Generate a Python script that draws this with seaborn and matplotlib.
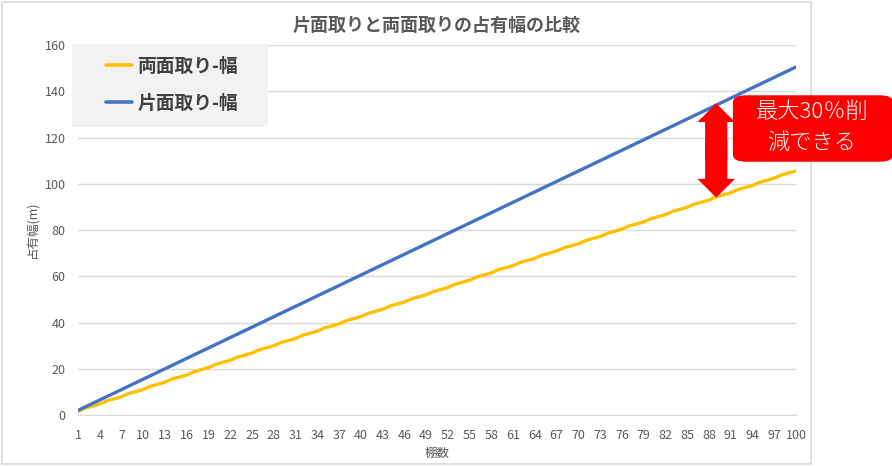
import matplotlib
matplotlib.use("Agg")
import matplotlib.pyplot as plt
import matplotlib.patches as mpatches
import seaborn as sns
import pandas as pd

# 片面取りと両面取りの占有幅の比較

tanasu = list(range(1, 101))

# 片面取り-幅 (m)
katamen = [
    2.0, 3.5, 5.0, 6.5, 8.0, 9.5, 11.0, 12.5, 14.0, 15.5,
    17.0, 18.5, 20.0, 21.5, 23.0, 24.5, 26.0, 27.5, 29.0, 30.5,
    32.0, 33.5, 35.0, 36.5, 38.0, 39.5, 41.0, 42.5, 44.0, 45.5,
    47.0, 48.5, 50.0, 51.5, 53.0, 54.5, 56.0, 57.5, 59.0, 60.5,
    62.0, 63.5, 65.0, 66.5, 68.0, 69.5, 71.0, 72.5, 74.0, 75.5,
    77.0, 78.5, 80.0, 81.5, 83.0, 84.5, 86.0, 87.5, 89.0, 90.5,
    92.0, 93.5, 95.0, 96.5, 98.0, 99.5, 101.0, 102.5, 104.0, 105.5,
    107.0, 108.5, 110.0, 111.5, 113.0, 114.5, 116.0, 117.5, 119.0, 120.5,
    122.0, 123.5, 125.0, 126.5, 128.0, 129.5, 131.0, 132.5, 134.0, 135.5,
    137.0, 138.5, 140.0, 141.5, 143.0, 144.5, 146.0, 147.5, 149.0, 150.5,
]

# 両面取り-幅 (m)
ryomen = [
    1.6, 3.0, 3.85, 4.75, 6.15, 7.0, 7.9, 9.3, 10.15, 11.05,
    12.45, 13.3, 14.2, 15.6, 16.45, 17.35, 18.75, 19.6, 20.5, 21.9,
    22.75, 23.65, 25.05, 25.9, 26.8, 28.2, 29.05, 29.95, 31.35, 32.2,
    33.1, 34.5, 35.35, 36.25, 37.65, 38.5, 39.4, 40.8, 41.65, 42.55,
    43.95, 44.8, 45.7, 47.1, 47.95, 48.85, 50.25, 51.1, 52.0, 53.4,
    54.25, 55.15, 56.55, 57.4, 58.3, 59.7, 60.55, 61.45, 62.85, 63.7,
    64.6, 66.0, 66.85, 67.75, 69.15, 70.0, 70.9, 72.3, 73.15, 74.05,
    75.45, 76.3, 77.2, 78.6, 79.45, 80.35, 81.75, 82.6, 83.5, 84.9,
    85.75, 86.65, 88.05, 88.9, 89.8, 91.2, 92.05, 92.95, 94.35, 95.2,
    96.1, 97.5, 98.35, 99.25, 100.65, 101.5, 102.4, 103.8, 104.65, 105.55,
]

series_names = ["両面取り-幅", "片面取り-幅"]
colors = {"両面取り-幅": "#FFC000", "片面取り-幅": "#4472C4"}
x_labels = list(range(1, 101, 3))

df = pd.DataFrame({
    "棚数": tanasu * 2,
    "占有幅": ryomen + katamen,
    "系列": [series_names[0]] * 100 + [series_names[1]] * 100,
})

sns.set_style("white")
plt.rcParams["font.family"] = ["Noto Sans CJK JP", "DejaVu Sans"]

W, H = 892, 466
fig = plt.figure(figsize=(W / 100, H / 100), dpi=100)
ax = fig.add_axes([78 / W, 1 - 415 / H, (796 - 78) / W, (415 - 45) / H])

sns.lineplot(data=df, x="棚数", y="占有幅", hue="系列", palette=colors,
             linewidth=2.4, ax=ax, legend=False)

ax.set_xlim(1, 100)
ax.set_ylim(0, 160)
ax.set_yticks(range(0, 161, 20))
ax.set_xticks(x_labels)
ax.set_xticks(tanasu, minor=True)
ax.tick_params(axis="x", which="both", length=4, color="#d9d9d9", direction="out",
               labelsize=9, labelcolor="#595959", pad=6)
ax.tick_params(axis="y", length=0, labelsize=9, labelcolor="#595959", pad=9)
ax.grid(axis="y", color="#d9d9d9", linewidth=1)
ax.set_axisbelow(True)
for s in ["top", "right", "left"]:
    ax.spines[s].set_visible(False)
ax.spines["bottom"].set_color("#d9d9d9")

ax.set_xlabel("棚数", fontsize=9, color="#595959", labelpad=4)
ax.set_ylabel("占有幅(m)", fontsize=9, color="#595959", labelpad=4)

# グラフエリアの枠
fig.patches.append(mpatches.Rectangle((2 / W, 1 - 464 / H), (811 - 2) / W, (464 - 2) / H,
                                      transform=fig.transFigure, fill=False,
                                      edgecolor="#d9d9d9", linewidth=1.2))

fig.text(437 / W, 1 - 25 / H, "片面取りと両面取りの占有幅の比較", ha="center", va="center",
         fontsize=13, fontweight="bold", color="#595959")

# 凡例
fig.patches.append(mpatches.Rectangle((72 / W, 1 - 127 / H), (268 - 72) / W, (127 - 44) / H,
                                      transform=fig.transFigure, facecolor="#f2f2f2",
                                      edgecolor="none", zorder=3))
handles = [plt.Line2D([], [], color=colors[n], linewidth=2.6) for n in series_names]
leg = fig.legend(handles, series_names, loc="upper left",
                 bbox_to_anchor=(106 / W, 1 - 57 / H), frameon=False,
                 prop={"size": 13.5, "weight": "bold"}, handlelength=1.4,
                 handletextpad=0.28, labelspacing=0.95, borderpad=0, borderaxespad=0)
leg.set_zorder(4)
for t in leg.get_texts():
    t.set_color("#404040")

# 削減量の矢印 (中央から上下へ、継ぎ目が出ないよう少し重ねる)
arrow_x = 89
arrow_top, arrow_bottom = 134.8, 94.0
arrow_mid = (arrow_top + arrow_bottom) / 2
for tip, start in ((arrow_top, arrow_mid - 4), (arrow_bottom, arrow_mid + 4)):
    ax.annotate("", xy=(arrow_x, tip), xytext=(arrow_x, start),
                arrowprops=dict(arrowstyle="simple,head_length=1.35,head_width=2.7,tail_width=1.6",
                                facecolor="#FF0000", edgecolor="none", lw=0,
                                mutation_scale=10, shrinkA=0, shrinkB=0))

box = mpatches.FancyBboxPatch((740 / W, 1 - 158 / H), (886 - 740) / W, (158 - 99) / H,
                              boxstyle="round,pad=0.008,rounding_size=0.015",
                              transform=fig.transFigure, facecolor="#FF0000",
                              edgecolor="none", zorder=5)
fig.patches.append(box)
fig.text(812 / W, 1 - 112 / H, "最大30％削", ha="center", va="center",
         fontsize=16, color="white", fontweight="light", zorder=6)
fig.text(812 / W, 1 - 143 / H, "減できる", ha="center", va="center",
         fontsize=16, color="white", fontweight="light", zorder=6)

fig.savefig("out.png", dpi=100)
